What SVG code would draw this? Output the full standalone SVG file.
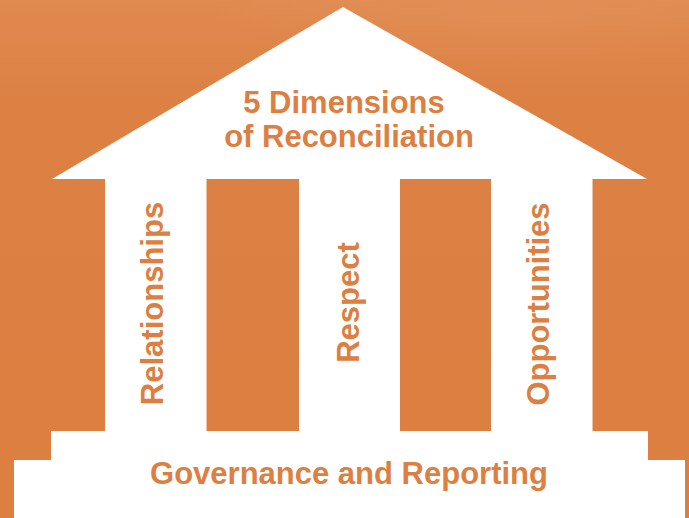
<svg xmlns="http://www.w3.org/2000/svg" width="689" height="518" viewBox="0 0 689 518">
  <defs>
    <linearGradient id="bg" x1="0" y1="0" x2="0" y2="1">
      <stop offset="0" stop-color="#E08A50"/>
      <stop offset="0.2" stop-color="#DC8043"/>
      <stop offset="1" stop-color="#DC7F41"/>
    </linearGradient>
    <radialGradient id="tex" cx="0.75" cy="0.02" r="0.45">
      <stop offset="0" stop-color="#E3955F" stop-opacity="0.4"/>
      <stop offset="1" stop-color="#E3955F" stop-opacity="0"/>
    </radialGradient>
    <style>
      .w { fill: #FFFFFF; }
      .t { font-family: "Liberation Sans", Arial, sans-serif; font-weight: bold; font-size: 31px; fill: #DC7F41; }
    </style>
  </defs>
  <rect width="689" height="518" fill="url(#bg)"/>
  <rect width="689" height="140" fill="url(#tex)"/>

  <g id="roof">
    <polygon class="w" points="343,7 647,179 52,179"/>
    <text class="t" x="344" y="113" text-anchor="middle">5 Dimensions</text>
    <text class="t" x="349" y="147" text-anchor="middle">of Reconciliation</text>
  </g>

  <g id="pillar-relationships">
    <rect class="w" x="105" y="178" width="101.5" height="254"/>
    <text class="t" transform="translate(163,303.5) rotate(-90)" text-anchor="middle">Relationships</text>
  </g>
  <g id="pillar-respect">
    <rect class="w" x="299" y="178" width="101" height="254"/>
    <text class="t" transform="translate(358.5,302.5) rotate(-90)" text-anchor="middle">Respect</text>
  </g>
  <g id="pillar-opportunities">
    <rect class="w" x="491" y="178" width="101.5" height="254"/>
    <text class="t" transform="translate(548.5,304) rotate(-90)" text-anchor="middle">Opportunities</text>
  </g>

  <g id="base">
    <rect class="w" x="51" y="431" width="597" height="30"/>
    <rect class="w" x="14" y="460" width="671" height="58"/>
    <text class="t" x="349" y="484" text-anchor="middle">Governance and Reporting</text>
  </g>

  <g id="connectors"/>
</svg>
